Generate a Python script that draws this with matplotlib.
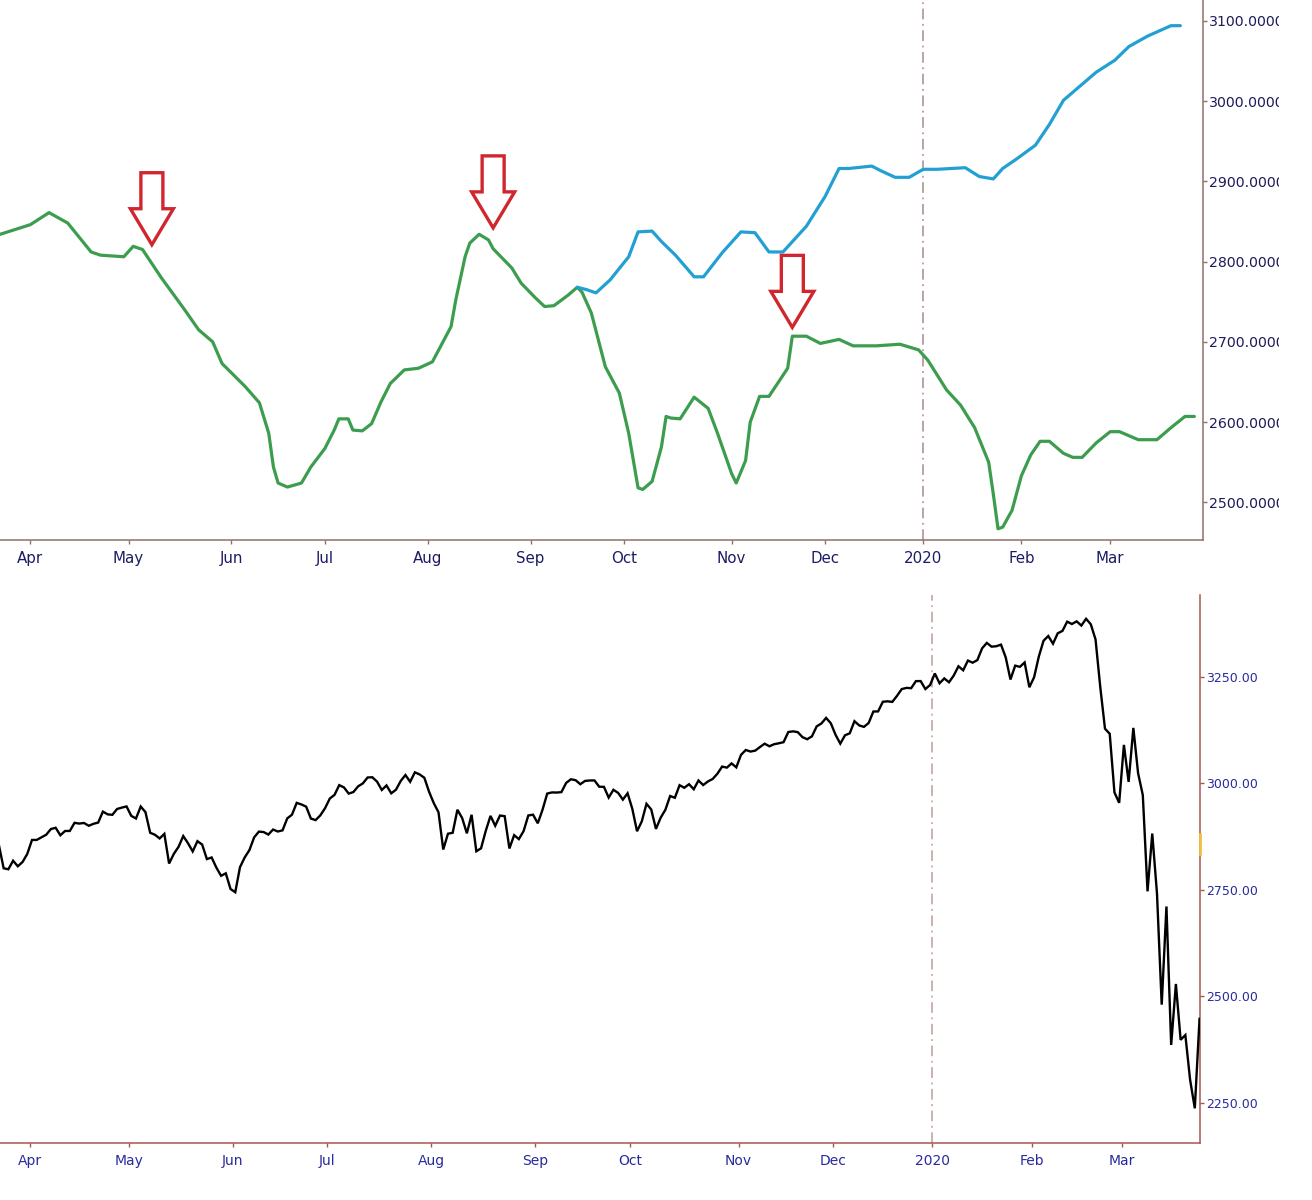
import numpy as np
import pandas as pd
import matplotlib
matplotlib.use("Agg")
import matplotlib.pyplot as plt
from matplotlib.patches import Polygon
from matplotlib import transforms
from matplotlib.transforms import Bbox

# ---------------- calendar (NYSE trading days) ----------------
holidays = ["2019-04-19", "2019-05-27", "2019-07-04", "2019-09-02", "2019-11-28",
            "2019-12-25", "2020-01-01", "2020-01-20", "2020-02-17"]

month_labels = ["Apr", "May", "Jun", "Jul", "Aug", "Sep", "Oct", "Nov", "Dec",
                "2020", "Feb", "Mar"]
month_starts = ["2019-04-01", "2019-05-01", "2019-06-01", "2019-07-01", "2019-08-01",
                "2019-09-01", "2019-10-01", "2019-11-01", "2019-12-01", "2020-01-01",
                "2020-02-01", "2020-03-01"]

# ---------------- top panel: green and blue indicator lines ----------------
green_dates = ["2019-03-20", "2019-03-29", "2019-04-04", "2019-04-10", "2019-04-17",
               "2019-04-22", "2019-04-29", "2019-05-01", "2019-05-03", "2019-05-09",
               "2019-05-16", "2019-05-21", "2019-05-24", "2019-05-29", "2019-06-05",
               "2019-06-10", "2019-06-12", "2019-06-13", "2019-06-14", "2019-06-18",
               "2019-06-21", "2019-06-25", "2019-06-28", "2019-07-02", "2019-07-03",
               "2019-07-08", "2019-07-09", "2019-07-11", "2019-07-15", "2019-07-17",
               "2019-07-19", "2019-07-24", "2019-07-29", "2019-08-01", "2019-08-07",
               "2019-08-08", "2019-08-12", "2019-08-13", "2019-08-15", "2019-08-19",
               "2019-08-20", "2019-08-26", "2019-08-28", "2019-09-03", "2019-09-05",
               "2019-09-09", "2019-09-12", "2019-09-16", "2019-09-17", "2019-09-19",
               "2019-09-24", "2019-09-27", "2019-10-01", "2019-10-03", "2019-10-04",
               "2019-10-08", "2019-10-10", "2019-10-11", "2019-10-14", "2019-10-16",
               "2019-10-21", "2019-10-24", "2019-10-28", "2019-10-31", "2019-11-01",
               "2019-11-05", "2019-11-06", "2019-11-08", "2019-11-12", "2019-11-18",
               "2019-11-19", "2019-11-22", "2019-11-27", "2019-12-04", "2019-12-09",
               "2019-12-16", "2019-12-23", "2019-12-30", "2020-01-02", "2020-01-08",
               "2020-01-13", "2020-01-16", "2020-01-22", "2020-01-23", "2020-01-24",
               "2020-01-27", "2020-01-29", "2020-01-31", "2020-02-04", "2020-02-06",
               "2020-02-10", "2020-02-13", "2020-02-18", "2020-02-20", "2020-02-25",
               "2020-02-28", "2020-03-03", "2020-03-09", "2020-03-13", "2020-03-18",
               "2020-03-23", "2020-03-25"]
green_values = [2833, 2846, 2861, 2848, 2812,
                2808, 2806, 2819, 2815, 2780,
                2740, 2715, 2700, 2673, 2644,
                2624, 2586, 2544, 2524, 2519,
                2524, 2544, 2567, 2590, 2604,
                2604, 2590, 2589, 2598, 2625,
                2648, 2665, 2667, 2675, 2719,
                2752, 2806, 2823, 2834, 2827,
                2816, 2792, 2773, 2755, 2744,
                2745, 2758, 2768, 2762, 2736,
                2669, 2636, 2586, 2518, 2516,
                2526, 2569, 2607, 2605, 2604,
                2631, 2617, 2586, 2536, 2524,
                2552, 2600, 2632, 2632, 2667,
                2707, 2707, 2698, 2703, 2695,
                2695, 2697, 2690, 2677, 2640,
                2621, 2593, 2550, 2510, 2467,
                2469, 2490, 2533, 2559, 2576,
                2576, 2561, 2556, 2556, 2574,
                2588, 2588, 2578, 2578, 2593,
                2607, 2607]

blue_dates = ["2019-09-16", "2019-09-18", "2019-09-20", "2019-09-25", "2019-10-01",
              "2019-10-03", "2019-10-08", "2019-10-10", "2019-10-15", "2019-10-21",
              "2019-10-23", "2019-10-29", "2019-11-04", "2019-11-07", "2019-11-12",
              "2019-11-15", "2019-11-22", "2019-11-29", "2019-12-04", "2019-12-06",
              "2019-12-13", "2019-12-17", "2019-12-20", "2019-12-26", "2019-12-31",
              "2020-01-06", "2020-01-14", "2020-01-17", "2020-01-23", "2020-01-27",
              "2020-01-30", "2020-02-05", "2020-02-10", "2020-02-13", "2020-02-20",
              "2020-02-25", "2020-03-02", "2020-03-05", "2020-03-11", "2020-03-18",
              "2020-03-20"]
blue_values = [2768, 2765, 2761, 2777, 2806,
               2837, 2838, 2825, 2808, 2781,
               2781, 2811, 2837, 2836, 2812,
               2812, 2844, 2881, 2916, 2916,
               2919, 2913, 2905, 2905, 2915,
               2915, 2917, 2906, 2903, 2916,
               2928, 2945, 2971, 3001, 3021,
               3036, 3051, 3068, 3081, 3094,
               3094]

arrow_dates = ["2019-05-07", "2019-08-20", "2019-11-19"]
arrow_values = [2821, 2842, 2718]

top_yticks = [2500, 2600, 2700, 2800, 2900, 3000, 3100]

# ---------------- bottom panel: daily index closes ----------------
spx_start = "2019-03-21"
spx_mar19 = [2854.88, 2800.71, 2798.36, 2818.46, 2805.37, 2815.44, 2834.40]
spx_apr19 = [2867.19, 2867.24, 2873.40, 2879.39, 2892.74, 2895.77, 2878.20, 2888.21,
             2888.32, 2907.41, 2905.58, 2907.06, 2900.45, 2905.03, 2907.97, 2933.68,
             2927.25, 2926.17, 2939.88, 2943.03, 2945.83]
spx_may19 = [2923.73, 2917.52, 2945.64, 2932.47, 2884.05, 2879.42, 2870.72, 2881.40,
             2811.87, 2834.41, 2850.96, 2876.32, 2859.53, 2840.23, 2864.36, 2856.27,
             2822.24, 2826.06, 2802.39, 2783.02, 2788.86, 2752.06]
spx_jun19 = [2744.45, 2803.27, 2826.15, 2843.49, 2873.34, 2886.73, 2885.72, 2879.84,
             2891.64, 2886.98, 2889.67, 2917.75, 2926.46, 2954.18, 2950.46, 2945.35,
             2917.38, 2913.78, 2924.92, 2941.76]
spx_jul19 = [2964.33, 2973.01, 2995.82, 2990.41, 2975.95, 2979.63, 2993.07, 2999.91,
             3013.77, 3014.30, 3004.04, 2984.42, 2995.11, 2976.61, 2985.03, 3005.47,
             3019.56, 3003.67, 3025.86, 3020.97, 3013.18, 2980.38]
spx_aug19 = [2953.56, 2932.05, 2844.74, 2881.77, 2883.98, 2938.09, 2918.65, 2882.70,
             2926.32, 2840.60, 2847.60, 2888.68, 2923.65, 2900.51, 2924.43, 2922.95,
             2847.11, 2878.38, 2869.16, 2887.94, 2924.58, 2926.46]
spx_sep19 = [2906.27, 2937.78, 2976.00, 2978.71, 2978.43, 2979.39, 3000.93, 3009.57,
             3007.39, 2997.96, 3005.70, 3006.73, 3006.79, 2992.07, 2991.78, 2966.60,
             2984.87, 2977.62, 2961.79, 2976.74]
spx_oct19 = [2940.25, 2887.61, 2910.63, 2952.01, 2938.79, 2893.06, 2919.40, 2938.13,
             2970.27, 2966.15, 2995.68, 2989.69, 2997.95, 2986.20, 3006.72, 2995.99,
             3004.52, 3010.29, 3022.55, 3039.42, 3036.89, 3046.77, 3037.56]
spx_nov19 = [3066.91, 3078.27, 3074.62, 3076.78, 3085.18, 3093.08, 3087.01, 3091.84,
             3094.04, 3096.63, 3120.46, 3122.03, 3120.18, 3108.46, 3103.54, 3110.29,
             3133.64, 3140.52, 3153.63, 3140.98]
spx_dec19 = [3113.87, 3093.20, 3112.76, 3117.43, 3145.91, 3135.96, 3132.52, 3141.63,
             3168.57, 3168.80, 3191.45, 3192.52, 3191.14, 3205.37, 3221.22, 3224.01,
             3223.38, 3239.91, 3240.02, 3221.29, 3230.78]
spx_jan20 = [3257.85, 3234.85, 3246.28, 3237.18, 3253.05, 3274.70, 3265.35, 3288.13,
             3283.15, 3289.29, 3316.81, 3329.62, 3320.79, 3321.75, 3325.54, 3295.47,
             3243.63, 3276.24, 3273.40, 3283.66, 3225.52]
spx_feb20 = [3248.92, 3297.59, 3334.69, 3345.78, 3327.71, 3352.09, 3357.75, 3379.45,
             3373.94, 3380.16, 3370.29, 3386.15, 3373.23, 3337.75, 3225.89, 3128.21,
             3116.39, 2978.76, 2954.22]
spx_mar20 = [3090.23, 3003.37, 3130.12, 3023.94, 2972.37, 2746.56, 2882.23, 2741.38,
             2480.64, 2711.02, 2386.13, 2529.19, 2398.10, 2409.39, 2304.92, 2237.40,
             2447.33]

bottom_yticks = [2250, 2500, 2750, 3000, 3250]

# ---------------- build positions on a trading-day axis ----------------
days = pd.bdate_range("2019-03-01", "2020-03-31", freq="C", holidays=holidays)
origin = days.searchsorted(pd.Timestamp("2019-04-01"))


def pos(dates):
    return days.searchsorted(pd.to_datetime(dates)) - origin


spx_values = (spx_mar19 + spx_apr19 + spx_may19 + spx_jun19 + spx_jul19 + spx_aug19 +
              spx_sep19 + spx_oct19 + spx_nov19 + spx_dec19 + spx_jan20 + spx_feb20 +
              spx_mar20)
start = days.searchsorted(pd.Timestamp(spx_start)) - origin
spx_x = np.arange(start, start + len(spx_values))

# ---------------- figure ----------------
W, H, DPI = 1312, 1200, 100
fig = plt.figure(figsize=(W / DPI, H / DPI), dpi=DPI)
fig.patch.set_facecolor("white")

ax1 = fig.add_axes([0, 1 - 540 / H, 1203 / W, 540 / H])
ax2 = fig.add_axes([0, 1 - 1143 / H, 1200 / W, (1143 - 595) / H])

green_c = "#3c9d4f"
blue_c = "#23a0d2"

# top panel
ax1.plot(pos(green_dates), green_values, color=green_c, lw=2.3, solid_joinstyle="round",
         solid_capstyle="round", zorder=3)
ax1.plot(pos(blue_dates), blue_values, color=blue_c, lw=2.3, solid_joinstyle="round",
         solid_capstyle="round", zorder=3)
ax1.set_xlim(-7.49, 249.85)
ax1.set_ylim(2453, 3126)

# bottom panel
ax2.plot(spx_x, spx_values, color="black", lw=1.7, solid_joinstyle="miter", zorder=3)
ax2.set_xlim(-6.77, 247.1)
ax2.set_ylim(2156, 3442)

top_spine = "#8f6f68"
bot_spine = "#a5574f"

for ax, sc, ytk, fmt, ycol, xcol, yfs, xfs, shift in [
        (ax1, top_spine, top_yticks, "{:.4f}", "#1c1c5a", "#1c1c64", 10.2, 10.8, 1.0),
        (ax2, bot_spine, bottom_yticks, "{:.2f}", "#2a2a9c", "#2a2a9c", 9.0, 10.0, 0.5)]:
    ax.set_facecolor("white")
    ax.spines["left"].set_visible(False)
    ax.spines["top"].set_visible(False)
    ax.spines["right"].set_color(sc)
    ax.spines["bottom"].set_color(sc)
    ax.spines["right"].set_linewidth(1.1)
    ax.spines["bottom"].set_linewidth(1.1)
    ax.yaxis.tick_right()
    ax.set_yticks(ytk)
    ax.set_yticklabels([fmt.format(v) for v in ytk])
    month_x = pos(month_starts) - shift
    ax.set_xticks(month_x)
    ax.set_xticklabels(month_labels)
    ax.tick_params(axis="y", which="both", direction="out", length=3, width=1,
                   color=sc, labelcolor=ycol, labelsize=yfs, pad=1.5,
                   left=False, right=True, labelleft=False, labelright=True)
    ax.tick_params(axis="x", direction="out", length=3, width=1, color=sc,
                   labelcolor=xcol, labelsize=xfs, pad=5)
    ax.axvline(pos(["2020-01-01"])[0] - shift,
               color="#a58c88" if ax is ax1 else "#c49a98",
               lw=1.1, ls=(0, (7, 3, 1.2, 3)), zorder=2)

# small marker on the bottom price scale
ax2.plot([1.0, 1.0], [2834, 2882], color="#f0c040", lw=2.0, clip_on=False,
         transform=transforms.blended_transform_factory(ax2.transAxes, ax2.transData),
         zorder=4)

# hollow red arrows pointing down at the peaks (shape in pixels, tip at data point)
arrow_shape = np.array([[0, 0], [21.5, 36], [11, 36], [11, 72], [-11, 72],
                        [-11, 36], [-21.5, 36]]) / DPI
for d, v in zip(pos(arrow_dates), arrow_values):
    tr = fig.dpi_scale_trans + transforms.ScaledTranslation(d, v, ax1.transData)
    ax1.add_patch(Polygon(arrow_shape, closed=True, facecolor="white",
                          edgecolor="#d0262d", lw=2.4, joinstyle="miter",
                          transform=tr, clip_on=False, zorder=5))

# clip top-price labels like the cropped screenshot
fig.canvas.draw()
clip = Bbox([[0, 0], [1279, H]])
for t in ax1.yaxis.get_major_ticks():
    t.label2.set_clip_box(clip)
    t.label2.set_clip_on(True)

fig.savefig("out.png", dpi=DPI, facecolor="white")
